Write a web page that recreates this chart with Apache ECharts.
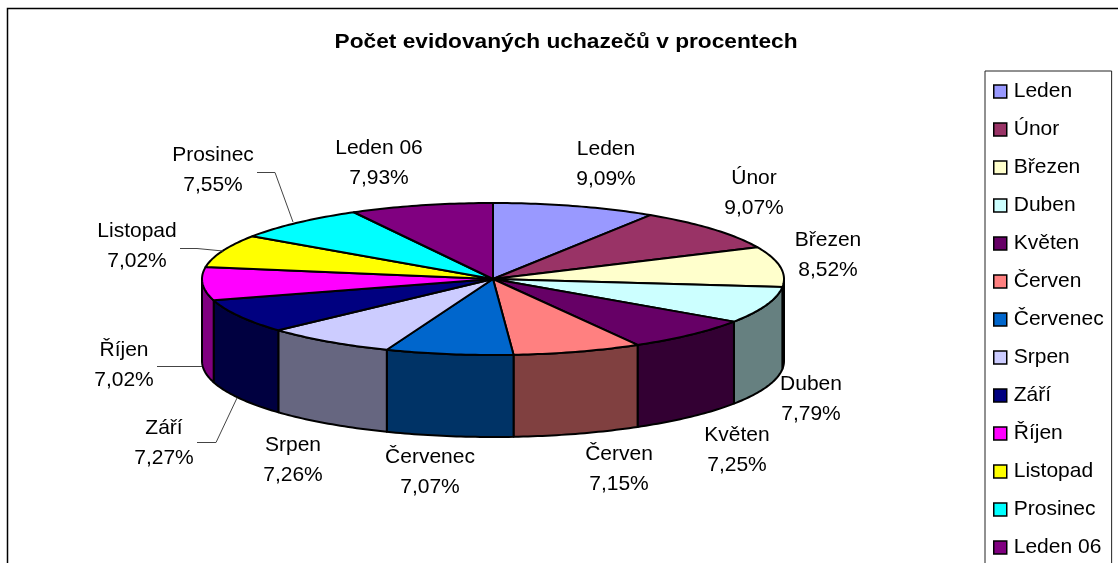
<!DOCTYPE html>
<html>
<head>
<meta charset="utf-8">
<script src="https://cdn.jsdelivr.net/npm/echarts@6/dist/echarts.min.js"></script>
<style>
  html, body { margin: 0; padding: 0; background: #fff; }
  #chart { width: 1118px; height: 563px; overflow: hidden; }
</style>
</head>
<body>
<div id="chart"></div>
<script>
const months = ["Leden", "Únor", "Březen", "Duben", "Květen", "Červen", "Červenec", "Srpen", "Září", "Říjen", "Listopad", "Prosinec", "Leden 06"];
const shares = [9.09, 9.07, 8.52, 7.79, 7.25, 7.15, 7.07, 7.26, 7.27, 7.02, 7.02, 7.55, 7.93];
const colors = ["#9999FF", "#993366", "#FFFFCC", "#CCFFFF", "#660066", "#FF8080", "#0066CC", "#CCCCFF", "#000080", "#FF00FF", "#FFFF00", "#00FFFF", "#800080"];

// layout only: centre of each two line label
const labelPos = [[606, 164], [754, 193], [828, 255], [811, 399], [737, 450], [619, 469], [430, 472], [293, 460], [164, 443], [124, 365], [137, 246], [213, 170], [379, 163]];
const leaders = [
  [[257, 172.5], [275, 172.5], [293, 222]],
  [[180, 248.5], [197, 248.5], [223, 251]],
  [[157, 366.5], [202, 366.5]],
  [[197, 442.5], [216, 442.5], [237, 398]]
];

const pie = { cx: 493, cy: 279, rx: 291, ry: 76, depth: 82 };
const total = shares.reduce((a, b) => a + b, 0);
const font = "Liberation Sans";

function rim(t, dy) {
  return [pie.cx + pie.rx * Math.sin(t), pie.cy - pie.ry * Math.cos(t) + dy];
}

function arc(t0, t1, dy) {
  const n = Math.max(2, Math.ceil((t1 - t0) * 60));
  const pts = [];
  for (let i = 0; i <= n; i++) {
    pts.push(rim(t0 + (t1 - t0) * i / n, dy));
  }
  return pts;
}

// wall shade is half of the slice colour
function shade(color) {
  const c = echarts.color.parse(color);
  return "rgb(" + Math.round(c[0] / 2) + "," + Math.round(c[1] / 2) + "," + Math.round(c[2] / 2) + ")";
}

function sliceItem(index) {
  return function (params, api) {
    const before = shares.slice(0, index).reduce((a, b) => a + b, 0);
    const val = api.value(0);
    const t0 = before / total * Math.PI * 2;
    const t1 = (before + val) / total * Math.PI * 2;
    const children = [];

    // only the front half of the rim shows a wall
    const w0 = Math.max(t0, Math.PI / 2);
    const w1 = Math.min(t1, Math.PI * 1.5);
    if (w1 > w0) {
      children.push({
        type: "polygon",
        z2: 1,
        shape: { points: arc(w0, w1, 0).concat(arc(w0, w1, pie.depth).reverse()) },
        style: { fill: shade(colors[index]), stroke: "#000", lineWidth: 2, lineJoin: "round" }
      });
    }
    children.push({
      type: "polygon",
      z2: 2,
      shape: { points: [[pie.cx, pie.cy]].concat(arc(t0, t1, 0)) },
      style: { fill: colors[index], stroke: "#000", lineWidth: 2, lineJoin: "round" }
    });
    children.push({
      type: "text",
      z2: 3,
      x: labelPos[index][0],
      y: labelPos[index][1],
      style: {
        text: months[index] + "\n" + val.toFixed(2).replace(".", ",") + "%",
        fill: "#000",
        font: "21px '" + font + "'",
        lineHeight: 30,
        align: "center",
        verticalAlign: "middle"
      }
    });
    return { type: "group", children: children };
  };
}

const myChart = echarts.init(document.getElementById("chart"), null, { renderer: "canvas" });
myChart.setOption({
  animation: false,
  backgroundColor: "#fff",
  legend: {
    orient: "vertical",
    left: 985,
    top: 71,
    height: 530,
    padding: [9, 8, 20, 8],
    itemWidth: 13,
    itemHeight: 13,
    itemGap: 15,
    icon: "rect",
    selectedMode: false,
    borderColor: "#222",
    borderWidth: 1,
    backgroundColor: "#fff",
    itemStyle: { borderColor: "#000", borderWidth: 1.5 },
    textStyle: { fontFamily: font, fontSize: 21, color: "#000", lineHeight: 23, padding: [0, 0, 0, 2] },
    data: months
  },
  graphic: [
    {
      type: "rect",
      silent: true,
      z: -1,
      shape: { x: 7.5, y: 8.5, width: 1130, height: 600 },
      style: { fill: "#fff", stroke: "#000", lineWidth: 1.5 }
    },
    {
      // title is stretched a little, the original has wide letter spacing
      type: "text",
      silent: true,
      z: 5,
      x: 566,
      y: 42,
      scaleX: 1.135,
      style: {
        text: "Počet evidovaných uchazečů v procentech",
        fill: "#000",
        font: "bold 20px '" + font + "'",
        align: "center",
        verticalAlign: "middle"
      }
    }
  ].concat(leaders.map((pts) => ({
    type: "polyline",
    silent: true,
    z: 5,
    shape: { points: pts },
    style: { fill: null, stroke: "#444", lineWidth: 1 }
  }))),
  series: months.map((name, i) => ({
    type: "custom",
    name: name,
    coordinateSystem: "none",
    silent: true,
    itemStyle: { color: colors[i] },
    renderItem: sliceItem(i),
    data: [[shares[i]]]
  }))
});
</script>
</body>
</html>
